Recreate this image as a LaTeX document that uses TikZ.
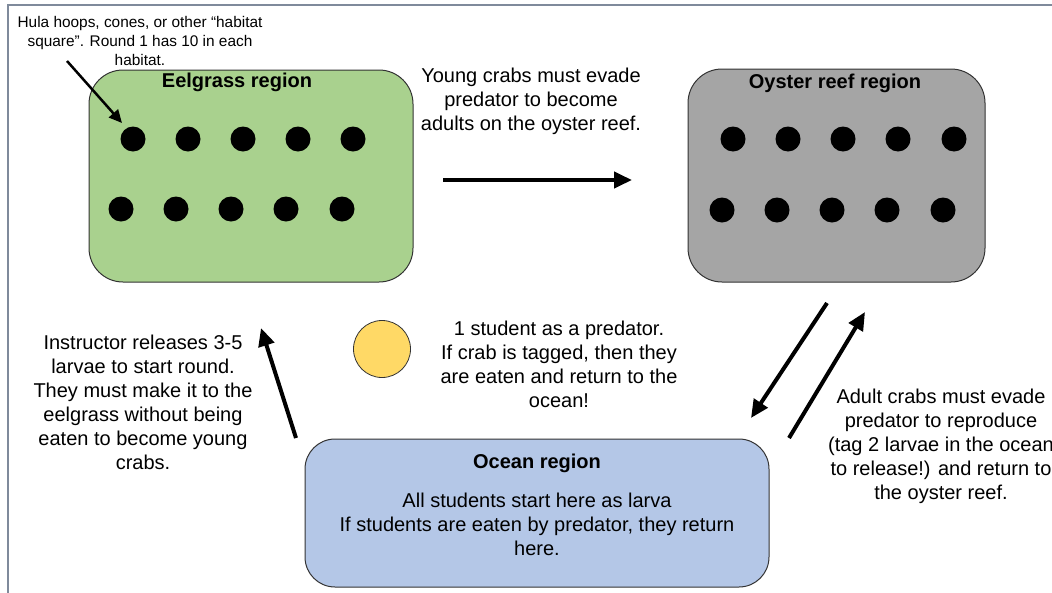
\documentclass[tikz,border=0pt]{standalone}
\usepackage{fontspec}
\setmainfont{Liberation Sans}
\usetikzlibrary{arrows.meta}
\definecolor{eelgreen}{HTML}{A9D18E}
\definecolor{oystergray}{HTML}{A5A5A5}
\definecolor{oceanblue}{HTML}{B4C7E7}
\definecolor{predyellow}{HTML}{FFD966}
\definecolor{framegray}{HTML}{7F8A9B}
\definecolor{edgedark}{HTML}{333333}
\tikzset{
  region/.style={draw=edgedark, line width=1pt, rounded corners=34pt},
  dotnode/.style={circle, fill=black, minimum size=25pt, inner sep=0pt},
  bigtext/.style={align=center, inner sep=0pt, font=\fontsize{20}{24}\selectfont},
  titletext/.style={inner sep=0pt, font=\fontsize{20}{24}\selectfont\bfseries},
  smalltext/.style={align=center, inner sep=0pt, font=\fontsize{15.4}{19}\selectfont},
  bigarrow/.style={line width=4pt, -{Triangle[length=18pt,width=16pt]}},
  thinarrow/.style={line width=2.5pt, -{Triangle[length=13pt,width=12pt]}},
}
\begin{document}
\begin{tikzpicture}[x=1pt,y=-1pt]
\useasboundingbox (0,0) rectangle (1052,592);
\draw[framegray, line width=2pt] (7.5,4.5) rectangle (1070,610);

% Eelgrass region
\draw[region, fill=eelgreen] (89,70) rectangle (413,282);
\node[titletext] (eeltitle) at (237,82) {Eelgrass region};
\foreach \i/\x in {1/133,2/188,3/243,4/298,5/353}{
  \node[dotnode] (ea\i) at (\x,139) {};
}
\foreach \i/\x in {1/121,2/176,3/231,4/286,5/342}{
  \node[dotnode] (eb\i) at (\x,209) {};
}

% Oyster reef region
\draw[region, fill=oystergray] (688,69) rectangle (985,282);
\node[titletext] (oytitle) at (835,83) {Oyster reef region};
\foreach \i/\x in {1/733,2/788,3/843,4/898,5/954}{
  \node[dotnode] (oa\i) at (\x,139) {};
}
\foreach \i/\x in {1/722,2/777,3/832,4/887,5/943}{
  \node[dotnode] (ob\i) at (\x,210) {};
}

% Ocean region
\draw[region, rounded corners=30pt, fill=oceanblue] (305,439) rectangle (769,587);
\node[titletext] (oceantitle) at (537,463) {Ocean region};
\node[bigtext] (oceanbody) at (537,524) {All students start here as larva\\If students are eaten by predator, they return\\here.};

% Predator
\node[circle, draw=edgedark, line width=0.8pt, fill=predyellow, minimum size=57pt, inner sep=0pt] (pred) at (382,349) {};
\node[bigtext] (predtext) at (559,364) {1 student as a predator.\\If crab is tagged, then they\\are eaten and return to the\\ocean!};

% Texts
\node[smalltext] (hula) at (140,41) {Hula hoops, cones, or other “habitat\\square”. Round 1 has 10 in each\\habitat.};
\node[bigtext] (young) at (531,101) {Young crabs must evade\\predator to become\\adults on the oyster reef.};
\node[bigtext] (instr) at (143,402) {Instructor releases 3-5\\larvae to start round.\\They must make it to the\\eelgrass without being\\eaten to become young\\crabs.};
\node[bigtext] (adult) at (941,446) {Adult crabs must evade\\predator to reproduce\\(tag 2 larvae in the ocean\\to release!) and return to\\the oyster reef.};

% Arrow coordinates
\coordinate (hulaA) at (67,61);
\coordinate (hulaB) at (122,123);
\coordinate (yA) at (443,180);
\coordinate (yB) at (632,180);
\coordinate (lA) at (296,438);
\coordinate (lB) at (261,328);
\coordinate (r1A) at (827,303);
\coordinate (r1B) at (751,418);
\coordinate (r2A) at (789,438);
\coordinate (r2B) at (865,312);

\draw[thinarrow] (hulaA) -- (hulaB);
\draw[bigarrow] (yA) -- (yB);
\draw[bigarrow] (lA) -- (lB);
\draw[bigarrow] (r1A) -- (r1B);
\draw[bigarrow] (r2A) -- (r2B);
\end{tikzpicture}
\end{document}
